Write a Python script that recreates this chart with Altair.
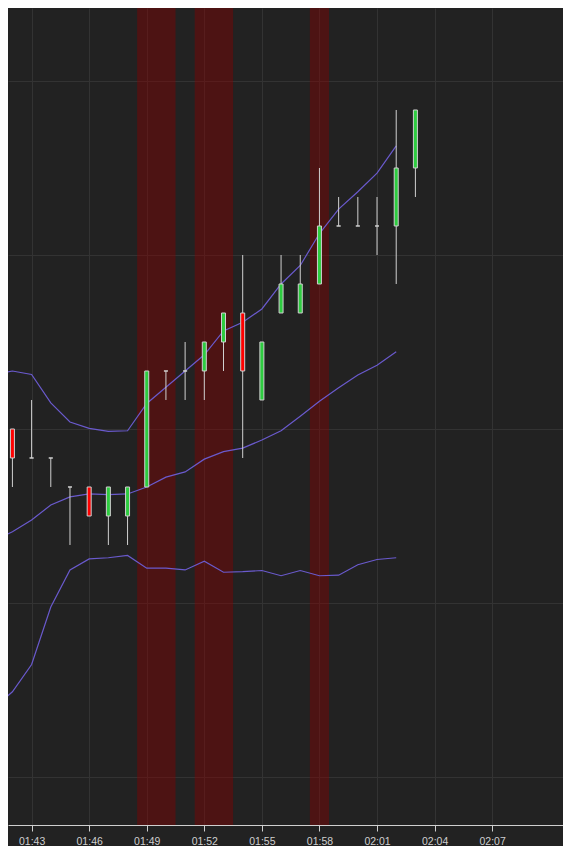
import altair as alt
import pandas as pd

DAY = "2024-01-01T"

# ---- candles (one per minute) ----
candle_times = ["01:42", "01:43", "01:44", "01:45", "01:46", "01:47", "01:48", "01:49",
                "01:50", "01:51", "01:52", "01:53", "01:54", "01:55", "01:56", "01:57",
                "01:58", "01:59", "02:00", "02:01", "02:02", "02:03"]
opens  = [100.0, 99.5, 99.5, 99.0, 99.0, 98.5, 98.5, 99.0, 101.0, 101.0, 101.0, 101.5,
          102.0, 100.5, 102.0, 102.0, 102.5, 103.5, 103.5, 103.5, 103.5, 104.5]
highs  = [100.0, 100.5, 99.5, 99.0, 99.0, 99.0, 99.0, 101.0, 101.0, 101.5, 101.5, 102.0,
          103.0, 101.5, 103.0, 103.0, 104.5, 104.0, 104.0, 104.0, 105.5, 105.5]
lows   = [99.0, 99.5, 99.0, 98.0, 98.5, 98.0, 98.0, 99.0, 100.5, 100.5, 100.5, 101.0,
          99.5, 100.5, 102.0, 102.0, 102.5, 103.5, 103.5, 103.0, 102.5, 104.0]
closes = [99.5, 99.5, 99.5, 99.0, 98.5, 99.0, 99.0, 101.0, 101.0, 101.0, 101.5, 102.0,
          101.0, 101.5, 102.5, 102.5, 103.5, 103.5, 103.5, 103.5, 104.5, 105.5]

# ---- Bollinger bands ----
band_times = ["01:41", "01:42", "01:43", "01:44", "01:45", "01:46", "01:47", "01:48",
              "01:49", "01:50", "01:51", "01:52", "01:53", "01:54", "01:55", "01:56",
              "01:57", "01:58", "01:59", "02:00", "02:01", "02:02"]
upper  = [100.93, 101.00, 100.94, 100.45, 100.12, 100.01, 99.96, 99.97, 100.44, 100.72,
          101.00, 101.28, 101.69, 101.84, 102.07, 102.50, 102.82, 103.37, 103.79, 104.09,
          104.41, 104.88]
middle = [98.06, 98.23, 98.43, 98.69, 98.83, 98.88, 98.87, 98.88, 99.00, 99.17, 99.26,
          99.48, 99.61, 99.67, 99.81, 99.97, 100.22, 100.48, 100.71, 100.93, 101.10, 101.33]
lower  = [95.18, 95.47, 95.94, 96.93, 97.57, 97.76, 97.78, 97.82, 97.60, 97.60, 97.57,
          97.72, 97.53, 97.54, 97.56, 97.47, 97.56, 97.47, 97.48, 97.66, 97.75, 97.78]

# ---- highlighted periods ----
shade_start = ["01:48:30", "01:51:30", "01:57:30"]
shade_end   = ["01:50:30", "01:53:30", "01:58:30"]

# ---- axes ----
tick_labels = ["01:43", "01:46", "01:49", "01:52", "01:55", "01:58", "02:01", "02:04", "02:07"]
grid_prices = [94, 97, 100, 103, 106]
y_domain = [93.1724, 107.2586]


def ts(t):
    return DAY + (t if len(t) > 5 else t + ":00")


def dt(t):
    parts = [int(p) for p in t.split(":")]
    h, m = parts[0], parts[1]
    s = parts[2] if len(parts) > 2 else 0
    ms = parts[3] if len(parts) > 3 else 0
    return alt.DateTime(year=2024, month=1, date=1, hours=h, minutes=m, seconds=s, milliseconds=ms)


candles = pd.DataFrame({
    "t": [ts(t) for t in candle_times],
    "open": opens, "high": highs, "low": lows, "close": closes,
})
candles["dir"] = ["up" if c >= o else "down" for o, c in zip(opens, closes)]

bands = pd.DataFrame({
    "t": [ts(t) for t in band_times],
    "upper": upper, "middle": middle, "lower": lower,
})

shades = pd.DataFrame({"s": [ts(t) for t in shade_start], "e": [ts(t) for t in shade_end]})

x_scale = alt.Scale(domain=[dt("01:41:46:200"), dt("02:10:41:500")], nice=False, padding=0)
y_scale = alt.Scale(domain=y_domain, nice=False, zero=False, padding=0)

x_axis = alt.Axis(
    values=[dt(t) for t in tick_labels], format="%H:%M", title=None,
    grid=True, gridColor="#333333", gridWidth=1,
    domainColor="#cfcfcf", domainWidth=1, tickColor="#cfcfcf", tickSize=6,
    labelColor="#cfcfcf", labelFontSize=10.5, labelFont="Liberation Sans",
    labelPadding=5.5, labelFlush=False,
)
y_axis = alt.Axis(values=grid_prices, labels=False, ticks=False, domain=False, title=None,
                  grid=True, gridColor="#333333", gridWidth=1)


def X(field):
    return alt.X(field, type="temporal", scale=x_scale, axis=x_axis)


def Y(field):
    return alt.Y(field, type="quantitative", scale=y_scale, axis=y_axis)


shade_layer = alt.Chart(shades).mark_rect(color="#8b0000", opacity=0.42).encode(
    x=X("s"), x2="e"
)

band_layer = alt.Chart(bands).transform_fold(
    ["upper", "middle", "lower"], as_=["band", "value"]
).mark_line(color="#6a5acd", strokeWidth=1.2, clip=True).encode(
    x=X("t"), y=Y("value"), detail="band:N"
)

wick_layer = alt.Chart(candles).mark_rule(color="#d0d0d0", strokeWidth=1).encode(
    x=X("t"), y=Y("low"), y2="high"
)

body_layer = alt.Chart(candles).mark_bar(size=4, stroke="#d0d0d0", strokeWidth=1).encode(
    x=X("t"), y=Y("open"), y2="close",
    color=alt.Color("dir:N", scale=alt.Scale(domain=["up", "down"], range=["#2ecc40", "#ff0000"]),
                    legend=None),
)

chart = alt.layer(shade_layer, band_layer, wick_layer, body_layer).properties(
    width=555, height=817,
    autosize=alt.AutoSizeParams(type="none"),
    padding={"left": 0, "top": 0, "right": 0, "bottom": 21},
    background="#222222",
).configure_view(stroke=None)

chart.save("out.html", embed_options={"renderer": "svg", "actions": False})
